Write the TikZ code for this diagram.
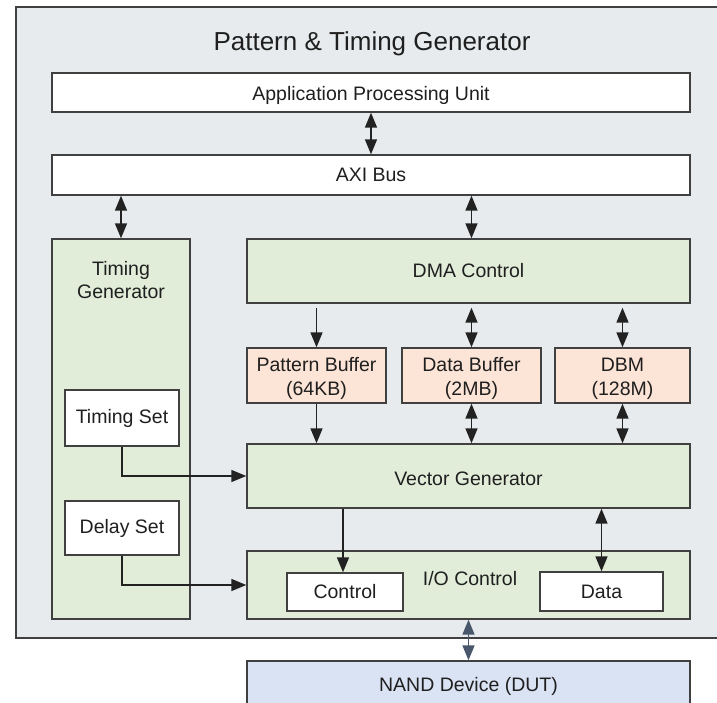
\documentclass[tikz,border=0pt]{standalone}
\usepackage{fontspec}
\setmainfont{Liberation Sans}
\usetikzlibrary{arrows.meta}
\definecolor{frameGrey}{HTML}{E8EBED}
\definecolor{unitGreen}{HTML}{E1EDD9}
\definecolor{bufPeach}{HTML}{FCE4D6}
\definecolor{dutBlue}{HTML}{DAE3F3}
\definecolor{edge}{HTML}{404040}
\definecolor{ink}{HTML}{1F1F1F}
\definecolor{wire}{HTML}{222222}
\definecolor{busWire}{HTML}{48576B}
\newcommand{\upstrut}{\rule{0pt}{20pt}}
\begin{document}
\begin{tikzpicture}[x=1pt,y=-1pt,
  blk/.style={rectangle, draw=edge, line width=1.4pt, text=ink, inner sep=0pt,
    align=center, font=\fontsize{19.5}{23.5}\selectfont},
  plain/.style={blk, fill=white},
  green/.style={blk, fill=unitGreen},
  peach/.style={blk, fill=bufPeach},
  lbl/.style={text=ink, align=center, inner sep=0pt, font=\fontsize{19.5}{23.5}\selectfont},
  tip/.tip={Triangle[length=15pt,width=12pt]},
  dbl/.style={tip-tip, line width=1.6pt, draw=wire},
  one/.style={-tip, line width=1.6pt, draw=wire}]
\useasboundingbox (0,0) rectangle (717,703);
\clip (0,0) rectangle (717,703);

% outer frame and its title
\node[blk, fill=frameGrey, minimum width=724pt, minimum height=631pt] (ptg) at (378,322.5) {};
\node[lbl, font=\fontsize{26}{30}\selectfont] (title) at (372,43.5) {Pattern \& Timing Generator};

% top level
\node[plain, minimum width=638pt, minimum height=39pt] (apu) at (371,92.5) {\upstrut Application Processing Unit};
\node[plain, minimum width=638pt, minimum height=40pt] (axi) at (371,175) {AXI Bus};

% timing generator column
\node[green, minimum width=138pt, minimum height=380pt] (tg) at (121,429) {};
\node[lbl] (tglbl) at (121,280) {Timing\\Generator};
\node[plain, minimum width=114pt, minimum height=56pt] (tset) at (122,418) {Timing Set};
\node[plain, minimum width=114pt, minimum height=54pt] (dset) at (122,528) {Delay Set};

% data path
\node[green, minimum width=443pt, minimum height=64pt] (dma) at (468.5,271) {DMA Control};
\node[peach, minimum width=139pt, minimum height=55pt] (pbuf) at (316.5,375.5) {\upstrut Pattern Buffer\\(64KB)};
\node[peach, minimum width=139pt, minimum height=55pt] (dbuf) at (471.5,375.5) {\upstrut Data Buffer\\(2MB)};
\node[peach, minimum width=135pt, minimum height=55pt] (dbm) at (622.5,375.5) {\upstrut DBM\\(128M)};
\node[green, minimum width=443pt, minimum height=64pt] (vg) at (468.5,476) {\upstrut Vector Generator};

% I/O control
\node[green, minimum width=443pt, minimum height=68pt] (io) at (468.5,585) {};
\node[lbl] (iolbl) at (470,579) {I/O Control};
\node[plain, minimum width=116pt, minimum height=38pt] (ctrl) at (345,592) {Control};
\node[plain, minimum width=123pt, minimum height=39pt] (data) at (601.5,591.5) {Data};

% device under test
\node[blk, fill=dutBlue, minimum width=443pt, minimum height=50pt] (nand) at (468.5,686) {NAND Device (DUT)};

% connectors
\draw[dbl] (apu.south) -- (axi.north);
\draw[dbl] (axi.south -| tg.north) -- (tg.north);
\draw[dbl] (axi.south -| dbuf) -- (dma.north -| dbuf);
\draw[one, shorten <=4pt] (dma.south -| pbuf) -- (pbuf.north);
\draw[dbl, shorten <=4pt] (dma.south -| dbuf) -- (dbuf.north);
\draw[dbl, shorten <=4pt] (dma.south -| dbm) -- (dbm.north);
\draw[one] (pbuf.south) -- (vg.north -| pbuf);
\draw[dbl] (dbuf.south) -- (vg.north -| dbuf);
\draw[dbl] (dbm.south) -- (vg.north -| dbm);
\draw[one] (tset.south) |- (vg.west);
\draw[one] (dset.south) |- (io.west);
\draw[one] ([xshift=-2pt]vg.south -| ctrl) -- ([xshift=-2pt]ctrl.north);
\draw[dbl] (data.north) -- (vg.south -| data);
\draw[dbl, draw=busWire] (io.south -| nand) -- (nand.north);
\end{tikzpicture}
\end{document}
